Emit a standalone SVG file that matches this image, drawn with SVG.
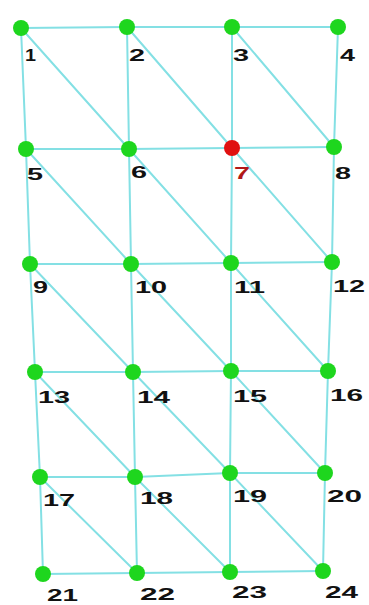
<svg xmlns="http://www.w3.org/2000/svg" width="369" height="605" viewBox="0 0 369 605">
<style>
.e{stroke:#84e0e4;stroke-width:2;fill:none}
.n{fill:#1ed61e}
.r{fill:#e01010}
.t{font-family:"Liberation Sans",Arial,sans-serif;font-size:16px;font-weight:bold;fill:#111}
.tr{fill:#b01818}
</style>
<rect width="369" height="605" fill="#fff"/>
<g id="connectors" class="e">
<path d="M21,28L127,27L232,27L338,27"/>
<path d="M26,149L129,149L232,148L334,147"/>
<path d="M30,264L131,264L231,263L332,262"/>
<path d="M35,372L133,372L231,371L328,371"/>
<path d="M40,477L135,477L230,473L325,473"/>
<path d="M43,574L137,573L230,572L323,571"/>
<path d="M21,28L26,149L30,264L35,372L40,477L43,574"/>
<path d="M127,27L129,149L131,264L133,372L135,477L137,573"/>
<path d="M232,27L232,148L231,263L231,371L230,473L230,572"/>
<path d="M338,27L334,147L332,262L328,371L325,473L323,571"/>
<path d="M21,28L129,149M127,27L232,148M232,27L334,147"/>
<path d="M26,149L131,264M129,149L231,263M232,148L332,262"/>
<path d="M30,264L133,372M131,264L231,371M231,263L328,371"/>
<path d="M35,372L135,477M133,372L230,473M231,371L325,473"/>
<path d="M40,477L137,573M135,477L230,572M230,473L323,571"/>
</g>
<g id="n1"><circle class="n" cx="21" cy="28" r="8"/><text class="t" x="25" y="61" textLength="11" lengthAdjust="spacingAndGlyphs">1</text></g>
<g id="n2"><circle class="n" cx="127" cy="27" r="8"/><text class="t" x="129" y="61" textLength="16" lengthAdjust="spacingAndGlyphs">2</text></g>
<g id="n3"><circle class="n" cx="232" cy="27" r="8"/><text class="t" x="233" y="61" textLength="16" lengthAdjust="spacingAndGlyphs">3</text></g>
<g id="n4"><circle class="n" cx="338" cy="27" r="8"/><text class="t" x="340" y="61" textLength="15" lengthAdjust="spacingAndGlyphs">4</text></g>
<g id="n5"><circle class="n" cx="26" cy="149" r="8"/><text class="t" x="27" y="180" textLength="16" lengthAdjust="spacingAndGlyphs">5</text></g>
<g id="n6"><circle class="n" cx="129" cy="149" r="8"/><text class="t" x="131" y="178" textLength="16" lengthAdjust="spacingAndGlyphs">6</text></g>
<g id="n7"><circle class="r" cx="232" cy="148" r="8"/><text class="t tr" x="234" y="179" textLength="16" lengthAdjust="spacingAndGlyphs">7</text></g>
<g id="n8"><circle class="n" cx="334" cy="147" r="8"/><text class="t" x="335" y="179" textLength="16" lengthAdjust="spacingAndGlyphs">8</text></g>
<g id="n9"><circle class="n" cx="30" cy="264" r="8"/><text class="t" x="33" y="293" textLength="15" lengthAdjust="spacingAndGlyphs">9</text></g>
<g id="n10"><circle class="n" cx="131" cy="264" r="8"/><text class="t" x="135" y="293" textLength="32" lengthAdjust="spacingAndGlyphs">10</text></g>
<g id="n11"><circle class="n" cx="231" cy="263" r="8"/><text class="t" x="234" y="293" textLength="31" lengthAdjust="spacingAndGlyphs">11</text></g>
<g id="n12"><circle class="n" cx="332" cy="262" r="8"/><text class="t" x="333" y="292" textLength="32" lengthAdjust="spacingAndGlyphs">12</text></g>
<g id="n13"><circle class="n" cx="35" cy="372" r="8"/><text class="t" x="38" y="403" textLength="32" lengthAdjust="spacingAndGlyphs">13</text></g>
<g id="n14"><circle class="n" cx="133" cy="372" r="8"/><text class="t" x="137" y="403" textLength="33" lengthAdjust="spacingAndGlyphs">14</text></g>
<g id="n15"><circle class="n" cx="231" cy="371" r="8"/><text class="t" x="233" y="402" textLength="34" lengthAdjust="spacingAndGlyphs">15</text></g>
<g id="n16"><circle class="n" cx="328" cy="371" r="8"/><text class="t" x="330" y="401" textLength="33" lengthAdjust="spacingAndGlyphs">16</text></g>
<g id="n17"><circle class="n" cx="40" cy="477" r="8"/><text class="t" x="43" y="506" textLength="32" lengthAdjust="spacingAndGlyphs">17</text></g>
<g id="n18"><circle class="n" cx="135" cy="477" r="8"/><text class="t" x="140" y="504" textLength="33" lengthAdjust="spacingAndGlyphs">18</text></g>
<g id="n19"><circle class="n" cx="230" cy="473" r="8"/><text class="t" x="233" y="502" textLength="34" lengthAdjust="spacingAndGlyphs">19</text></g>
<g id="n20"><circle class="n" cx="325" cy="473" r="8"/><text class="t" x="327" y="502" textLength="35" lengthAdjust="spacingAndGlyphs">20</text></g>
<g id="n21"><circle class="n" cx="43" cy="574" r="8"/><text class="t" x="47" y="601" textLength="31" lengthAdjust="spacingAndGlyphs">21</text></g>
<g id="n22"><circle class="n" cx="137" cy="573" r="8"/><text class="t" x="140" y="600" textLength="35" lengthAdjust="spacingAndGlyphs">22</text></g>
<g id="n23"><circle class="n" cx="230" cy="572" r="8"/><text class="t" x="232" y="598" textLength="35" lengthAdjust="spacingAndGlyphs">23</text></g>
<g id="n24"><circle class="n" cx="323" cy="571" r="8"/><text class="t" x="325" y="598" textLength="33" lengthAdjust="spacingAndGlyphs">24</text></g>
</svg>
